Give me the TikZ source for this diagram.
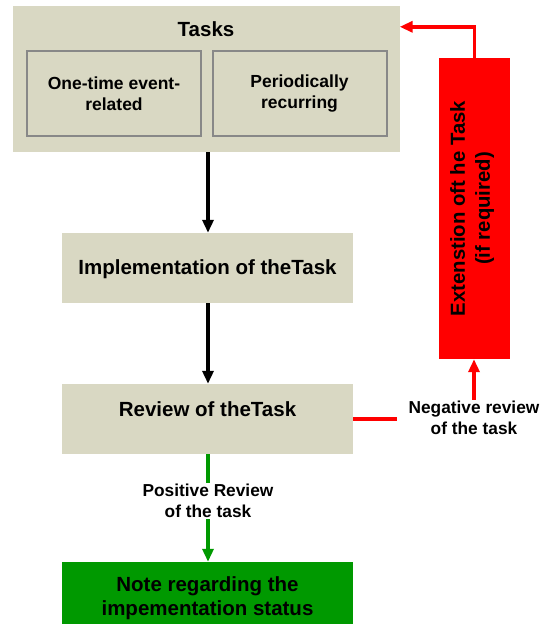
\documentclass[tikz,border=0pt]{standalone}
\usepackage{fontspec}
\setmainfont{Liberation Sans}
\usetikzlibrary{arrows.meta,calc}
\definecolor{beige}{RGB}{217,216,195}
\definecolor{innergray}{RGB}{136,136,136}
\definecolor{pgreen}{RGB}{0,153,0}
\definecolor{pred}{RGB}{255,0,0}
\begin{document}
\begin{tikzpicture}[x=1pt,y=-1pt,
  box/.style={fill=beige,draw=none,minimum width=291pt,align=center,inner sep=0pt,font=\fontsize{20.5}{24}\selectfont\bfseries},
  boxtext/.style={align=center,inner sep=0pt,font=\fontsize{20.5}{24}\selectfont\bfseries},
  inner/.style={fill=beige,draw=innergray,line width=2pt,minimum width=174pt,minimum height=85pt,align=center,inner sep=0pt,font=\fontsize{17.5}{21}\selectfont\bfseries},
  lbl/.style={align=center,inner sep=1pt,font=\fontsize{17.3}{21}\selectfont\bfseries},
  flow/.style={line width=3.5pt,-{Triangle[length=13pt,width=11pt]}},
]
\useasboundingbox (0,0) rectangle (555,626);
% Tasks container
\node[fill=beige,minimum width=387pt,minimum height=146pt,inner sep=0pt] (tasks) at (206,79) {};
\node[boxtext] (tasktitle) at (206,29) {Tasks};
\node[inner] (onetime) at (114,93.5) {One-time event-\\related};
\node[inner] (periodic) at (299.5,93.5) {Periodically\\recurring};
% Main boxes
\node[box,minimum height=70pt] (impl) at (207.5,268) {};
\node[boxtext] (impltext) at (207.5,269) {Implementation of theTask};
\node[box,minimum height=70pt] (review) at (207.5,419) {};
\node[boxtext] (reviewtext) at (207.5,409) {Review of theTask};
\node[box,fill=pgreen,minimum height=62pt] (note) at (207.5,593) {};
\node[boxtext] (notetext) at (207.5,598) {Note regarding the\\impementation status};
% Extension box
\node[fill=pred,minimum width=71pt,minimum height=301pt,inner sep=0pt] (ext) at (474.5,208.5) {};
\node[rotate=90,align=center,inner sep=0pt,font=\fontsize{20.3}{25}\selectfont\bfseries] (exttext) at (472,208.5) {Extenstion oft he Task\\(if required)};
% Labels
\node[lbl] (pos) at (208,501) {Positive Review\\of the task};
\node[lbl] (neg) at (474,418) {Negative review\\of the task};
\coordinate (tk) at ($(tasks.north east)+(0,21)$);
% Connectors
\draw[flow] (tasks.south -| impl.north) ++(0.5,0) coordinate (t1) -- (t1 |- impl.north);
\draw[flow] (impl.south) ++(0.5,0) coordinate (i1) -- (i1 |- review.north);
\draw[pgreen,line width=3.5pt] (review.south) ++(0.5,0) coordinate (r1) -- (r1 |- pos.north);
\draw[pgreen,flow] (pos.south) -- (pos.south |- note.north);
\draw[pred,line width=4pt,shorten >=10pt] (review.east) -- (review.east -| neg.west);
\draw[pred,flow] (neg.north) -- (neg.north |- ext.south);
\draw[pred,flow] (ext.north) |- (tk);
\end{tikzpicture}
\end{document}
